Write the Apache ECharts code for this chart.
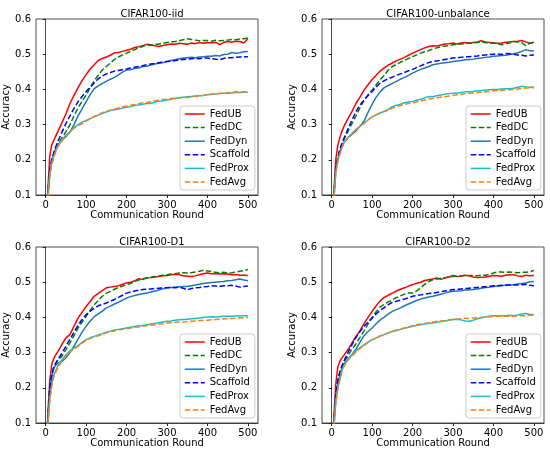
<!DOCTYPE html>
<html lang="en">
<head>
    <meta charset="UTF-8">
    <title>CIFAR100 accuracy</title>
    <script src="https://cdn.jsdelivr.net/npm/echarts@6/dist/echarts.min.js"></script>
    <style>
        html, body { margin: 0; padding: 0; background: #fff; }
    </style>
</head>
<body>
<div id="main" style="width: 550px; height: 453px;"></div>
<script>
    // communication rounds shared by every curve
    var rounds = [2, 6, 10, 15, 20, 25,
        30, 40, 50, 60, 70, 80, 90, 100, 110, 120,
        130, 140, 150, 160, 170, 180, 190, 200, 210, 220,
        230, 240, 250, 260, 270, 280, 290, 300, 310, 320,
        330, 340, 350, 360, 370, 380, 390, 400, 410, 420,
        430, 440, 450, 460, 470, 480, 490, 500];

    var methods = ['FedUB', 'FedDC', 'FedDyn', 'Scaffold', 'FedProx', 'FedAvg'];
    var colors = ['#ff0000', '#008000', '#1f77b4', '#0000ff', '#17becf', '#ff7f0e'];
    var dashed = [false, true, false, true, false, true];
    var titles = ['CIFAR100-iid', 'CIFAR100-unbalance', 'CIFAR100-D1', 'CIFAR100-D2'];
    var xTicks = [0, 100, 200, 300, 400, 500];

    // CIFAR100-iid
    var iidFedUB = [0.04, 0.13, 0.21, 0.243, 0.255, 0.268,
        0.28, 0.305, 0.33, 0.36, 0.383, 0.405, 0.425, 0.442, 0.458, 0.47,
        0.482, 0.488, 0.492, 0.497, 0.504, 0.505, 0.508, 0.511, 0.514, 0.519,
        0.521, 0.524, 0.528, 0.527, 0.524, 0.522, 0.525, 0.527, 0.529, 0.528,
        0.531, 0.53, 0.528, 0.532, 0.53, 0.533, 0.531, 0.533, 0.532, 0.534,
        0.527, 0.533, 0.536, 0.534, 0.537, 0.536, 0.532, 0.544];
    var iidFedDC = [0.03, 0.11, 0.17, 0.2, 0.218, 0.232,
        0.245, 0.262, 0.28, 0.3, 0.325, 0.348, 0.366, 0.384, 0.405, 0.425,
        0.44, 0.455, 0.465, 0.475, 0.485, 0.492, 0.498, 0.503, 0.508, 0.513,
        0.518, 0.522, 0.526, 0.525, 0.527, 0.529, 0.531, 0.533, 0.535, 0.536,
        0.538, 0.541, 0.544, 0.542, 0.54, 0.538, 0.539, 0.539, 0.537, 0.54,
        0.538, 0.539, 0.54, 0.542, 0.541, 0.543, 0.544, 0.546];
    var iidFedDyn = [0.03, 0.1, 0.16, 0.195, 0.215, 0.232,
        0.243, 0.256, 0.266, 0.278, 0.3, 0.325, 0.345, 0.365, 0.385, 0.402,
        0.41, 0.417, 0.423, 0.429, 0.434, 0.441, 0.449, 0.455, 0.456, 0.459,
        0.461, 0.465, 0.466, 0.469, 0.472, 0.474, 0.476, 0.479, 0.482, 0.484,
        0.487, 0.489, 0.49, 0.491, 0.49, 0.492, 0.493, 0.494, 0.494, 0.496,
        0.495, 0.499, 0.5, 0.505, 0.503, 0.504, 0.507, 0.508];
    var iidScaffold = [0.03, 0.11, 0.17, 0.2, 0.22, 0.237,
        0.252, 0.278, 0.303, 0.325, 0.346, 0.365, 0.38, 0.394, 0.406, 0.418,
        0.43, 0.438, 0.444, 0.448, 0.452, 0.454, 0.456, 0.458, 0.461, 0.463,
        0.465, 0.467, 0.47, 0.472, 0.474, 0.476, 0.478, 0.479, 0.48, 0.482,
        0.484, 0.485, 0.486, 0.487, 0.488, 0.487, 0.489, 0.489, 0.487, 0.486,
        0.484, 0.488, 0.49, 0.49, 0.491, 0.492, 0.493, 0.493];
    var iidFedProx = [0.03, 0.1, 0.16, 0.19, 0.21, 0.226,
        0.24, 0.256, 0.27, 0.28, 0.292, 0.3, 0.307, 0.312, 0.317, 0.322,
        0.327, 0.332, 0.336, 0.34, 0.342, 0.344, 0.347, 0.349, 0.351, 0.354,
        0.356, 0.358, 0.36, 0.36, 0.364, 0.366, 0.368, 0.37, 0.372, 0.374,
        0.376, 0.378, 0.379, 0.38, 0.381, 0.382, 0.383, 0.385, 0.386, 0.387,
        0.388, 0.389, 0.389, 0.39, 0.391, 0.391, 0.392, 0.392];
    var iidFedAvg = [0.03, 0.1, 0.155, 0.187, 0.207, 0.223,
        0.237, 0.254, 0.268, 0.279, 0.29, 0.297, 0.303, 0.31, 0.317, 0.323,
        0.328, 0.334, 0.338, 0.341, 0.344, 0.347, 0.35, 0.353, 0.355, 0.357,
        0.359, 0.362, 0.363, 0.365, 0.367, 0.369, 0.371, 0.372, 0.374, 0.375,
        0.376, 0.377, 0.377, 0.379, 0.38, 0.381, 0.383, 0.385, 0.386, 0.387,
        0.389, 0.39, 0.39, 0.392, 0.393, 0.392, 0.393, 0.392];

    // CIFAR100-unbalance
    var unbFedUB = [0.04, 0.12, 0.2, 0.24, 0.263, 0.28,
        0.294, 0.316, 0.337, 0.36, 0.378, 0.398, 0.413, 0.428, 0.44, 0.452,
        0.461, 0.469, 0.475, 0.481, 0.486, 0.491, 0.497, 0.503, 0.508, 0.513,
        0.518, 0.522, 0.524, 0.523, 0.526, 0.529, 0.53, 0.532, 0.529, 0.532,
        0.533, 0.531, 0.533, 0.535, 0.538, 0.535, 0.533, 0.532, 0.531, 0.532,
        0.534, 0.535, 0.536, 0.537, 0.539, 0.535, 0.531, 0.534];
    var unbFedDC = [0.03, 0.11, 0.175, 0.205, 0.228, 0.245,
        0.258, 0.28, 0.303, 0.325, 0.348, 0.368, 0.385, 0.398, 0.413, 0.428,
        0.44, 0.455, 0.465, 0.471, 0.477, 0.482, 0.488, 0.493, 0.498, 0.503,
        0.507, 0.51, 0.515, 0.518, 0.521, 0.523, 0.524, 0.527, 0.528, 0.529,
        0.53, 0.531, 0.532, 0.533, 0.534, 0.533, 0.531, 0.532, 0.53, 0.527,
        0.53, 0.532, 0.536, 0.535, 0.533, 0.524, 0.531, 0.534];
    var unbFedDyn = [0.03, 0.1, 0.17, 0.2, 0.222, 0.24,
        0.25, 0.263, 0.272, 0.282, 0.295, 0.31, 0.335, 0.358, 0.378, 0.393,
        0.405, 0.411, 0.417, 0.423, 0.429, 0.434, 0.44, 0.446, 0.452, 0.457,
        0.461, 0.465, 0.47, 0.472, 0.474, 0.476, 0.477, 0.479, 0.481, 0.482,
        0.484, 0.485, 0.486, 0.488, 0.489, 0.491, 0.492, 0.494, 0.495, 0.496,
        0.497, 0.499, 0.501, 0.504, 0.508, 0.513, 0.51, 0.51];
    var unbScaffold = [0.03, 0.11, 0.175, 0.205, 0.228, 0.245,
        0.26, 0.287, 0.313, 0.337, 0.356, 0.37, 0.383, 0.394, 0.407, 0.418,
        0.425, 0.43, 0.435, 0.44, 0.444, 0.448, 0.453, 0.457, 0.462, 0.467,
        0.472, 0.476, 0.479, 0.481, 0.483, 0.485, 0.487, 0.489, 0.49, 0.491,
        0.493, 0.493, 0.494, 0.495, 0.497, 0.498, 0.499, 0.5, 0.501, 0.499,
        0.502, 0.501, 0.5, 0.498, 0.497, 0.495, 0.497, 0.498];
    var unbFedProx = [0.03, 0.1, 0.165, 0.198, 0.218, 0.235,
        0.248, 0.263, 0.275, 0.286, 0.296, 0.303, 0.313, 0.322, 0.328, 0.333,
        0.338, 0.343, 0.351, 0.355, 0.358, 0.362, 0.364, 0.366, 0.369, 0.372,
        0.376, 0.38, 0.379, 0.382, 0.384, 0.386, 0.388, 0.389, 0.39, 0.391,
        0.393, 0.393, 0.394, 0.396, 0.397, 0.398, 0.399, 0.4, 0.4, 0.401,
        0.402, 0.402, 0.403, 0.406, 0.409, 0.407, 0.406, 0.407];
    var unbFedAvg = [0.03, 0.1, 0.16, 0.195, 0.215, 0.232,
        0.246, 0.262, 0.274, 0.285, 0.295, 0.304, 0.314, 0.322, 0.328, 0.333,
        0.337, 0.341, 0.347, 0.351, 0.354, 0.357, 0.36, 0.362, 0.365, 0.367,
        0.37, 0.373, 0.374, 0.376, 0.378, 0.379, 0.381, 0.383, 0.385, 0.386,
        0.388, 0.389, 0.39, 0.391, 0.392, 0.393, 0.394, 0.396, 0.397, 0.397,
        0.398, 0.399, 0.4, 0.401, 0.403, 0.404, 0.404, 0.405];

    // CIFAR100-D1
    var d1FedUB = [0.05, 0.14, 0.22, 0.266, 0.283, 0.294,
        0.303, 0.323, 0.342, 0.351, 0.375, 0.398, 0.415, 0.431, 0.445, 0.46,
        0.468, 0.476, 0.484, 0.486, 0.488, 0.49, 0.494, 0.498, 0.5, 0.504,
        0.51, 0.508, 0.512, 0.513, 0.515, 0.516, 0.518, 0.519, 0.521, 0.522,
        0.522, 0.518, 0.517, 0.516, 0.518, 0.521, 0.524, 0.526, 0.524, 0.525,
        0.523, 0.524, 0.523, 0.521, 0.522, 0.52, 0.52, 0.519];
    var d1FedDC = [0.04, 0.12, 0.2, 0.24, 0.258, 0.27,
        0.278, 0.29, 0.308, 0.328, 0.348, 0.37, 0.387, 0.403, 0.42, 0.436,
        0.448, 0.46, 0.469, 0.474, 0.48, 0.485, 0.489, 0.493, 0.497, 0.502,
        0.506, 0.51, 0.512, 0.514, 0.516, 0.518, 0.52, 0.521, 0.523, 0.524,
        0.526, 0.527, 0.526, 0.527, 0.529, 0.531, 0.534, 0.532, 0.53, 0.528,
        0.527, 0.528, 0.526, 0.527, 0.529, 0.531, 0.533, 0.536];
    var d1FedDyn = [0.04, 0.11, 0.18, 0.23, 0.255, 0.265,
        0.27, 0.275, 0.285, 0.3, 0.318, 0.338, 0.358, 0.375, 0.39, 0.402,
        0.41, 0.418, 0.427, 0.432, 0.438, 0.443, 0.449, 0.455, 0.459, 0.462,
        0.465, 0.467, 0.469, 0.472, 0.475, 0.478, 0.481, 0.484, 0.485, 0.486,
        0.487, 0.488, 0.488, 0.49, 0.492, 0.494, 0.496, 0.498, 0.499, 0.5,
        0.501, 0.502, 0.504, 0.505, 0.507, 0.509, 0.506, 0.504];
    var d1Scaffold = [0.04, 0.12, 0.2, 0.24, 0.258, 0.27,
        0.28, 0.298, 0.318, 0.338, 0.358, 0.378, 0.394, 0.408, 0.418, 0.426,
        0.433, 0.437, 0.441, 0.446, 0.451, 0.457, 0.463, 0.469, 0.472, 0.475,
        0.477, 0.479, 0.48, 0.481, 0.482, 0.483, 0.484, 0.484, 0.485, 0.484,
        0.486, 0.483, 0.478, 0.482, 0.484, 0.485, 0.487, 0.488, 0.49, 0.489,
        0.488, 0.49, 0.49, 0.491, 0.489, 0.486, 0.488, 0.489];
    var d1FedProx = [0.04, 0.11, 0.17, 0.21, 0.235, 0.25,
        0.262, 0.28, 0.294, 0.305, 0.313, 0.32, 0.329, 0.337, 0.342, 0.346,
        0.35, 0.354, 0.358, 0.361, 0.364, 0.366, 0.368, 0.37, 0.372, 0.374,
        0.376, 0.377, 0.379, 0.381, 0.383, 0.385, 0.387, 0.389, 0.39, 0.392,
        0.393, 0.394, 0.395, 0.396, 0.397, 0.398, 0.4, 0.401, 0.402, 0.401,
        0.402, 0.403, 0.403, 0.403, 0.404, 0.404, 0.405, 0.405];
    var d1FedAvg = [0.04, 0.1, 0.165, 0.205, 0.23, 0.245,
        0.258, 0.276, 0.29, 0.302, 0.31, 0.318, 0.327, 0.335, 0.34, 0.345,
        0.348, 0.352, 0.356, 0.359, 0.361, 0.364, 0.366, 0.368, 0.37, 0.372,
        0.373, 0.375, 0.377, 0.378, 0.379, 0.381, 0.382, 0.384, 0.385, 0.386,
        0.387, 0.387, 0.388, 0.389, 0.39, 0.391, 0.391, 0.392, 0.393, 0.394,
        0.395, 0.396, 0.396, 0.397, 0.398, 0.398, 0.399, 0.4];

    // CIFAR100-D2
    var d2FedUB = [0.04, 0.13, 0.21, 0.258, 0.275, 0.285,
        0.292, 0.308, 0.327, 0.346, 0.362, 0.383, 0.4, 0.417, 0.433, 0.447,
        0.457, 0.463, 0.469, 0.475, 0.48, 0.484, 0.489, 0.493, 0.497, 0.5,
        0.505, 0.507, 0.509, 0.512, 0.508, 0.512, 0.515, 0.519, 0.516, 0.517,
        0.52, 0.518, 0.515, 0.513, 0.514, 0.515, 0.517, 0.519, 0.518, 0.517,
        0.52, 0.521, 0.521, 0.518, 0.516, 0.52, 0.518, 0.519];
    var d2FedDC = [0.03, 0.11, 0.18, 0.22, 0.245, 0.262,
        0.275, 0.29, 0.31, 0.325, 0.343, 0.362, 0.382, 0.4, 0.416, 0.43,
        0.437, 0.444, 0.45, 0.456, 0.461, 0.466, 0.469, 0.469, 0.475, 0.484,
        0.494, 0.502, 0.507, 0.509, 0.511, 0.513, 0.515, 0.516, 0.517, 0.518,
        0.519, 0.519, 0.519, 0.518, 0.52, 0.52, 0.522, 0.526, 0.529, 0.529,
        0.528, 0.529, 0.528, 0.527, 0.528, 0.528, 0.53, 0.533];
    var d2FedDyn = [0.03, 0.1, 0.17, 0.21, 0.235, 0.255,
        0.268, 0.282, 0.294, 0.31, 0.33, 0.348, 0.36, 0.37, 0.382, 0.393,
        0.401, 0.41, 0.417, 0.422, 0.427, 0.433, 0.438, 0.443, 0.448, 0.452,
        0.455, 0.458, 0.46, 0.463, 0.466, 0.469, 0.472, 0.474, 0.475, 0.476,
        0.478, 0.478, 0.479, 0.481, 0.483, 0.485, 0.486, 0.488, 0.489, 0.49,
        0.491, 0.492, 0.493, 0.495, 0.496, 0.498, 0.501, 0.502];
    var d2Scaffold = [0.03, 0.11, 0.18, 0.22, 0.243, 0.26,
        0.275, 0.3, 0.322, 0.343, 0.36, 0.375, 0.387, 0.398, 0.41, 0.42,
        0.428, 0.436, 0.443, 0.446, 0.449, 0.452, 0.456, 0.46, 0.462, 0.464,
        0.466, 0.468, 0.469, 0.471, 0.473, 0.475, 0.477, 0.479, 0.48, 0.481,
        0.482, 0.483, 0.484, 0.485, 0.486, 0.487, 0.488, 0.49, 0.49, 0.491,
        0.492, 0.492, 0.493, 0.492, 0.493, 0.494, 0.491, 0.49];
    var d2FedProx = [0.03, 0.1, 0.16, 0.2, 0.225, 0.25,
        0.263, 0.28, 0.294, 0.305, 0.314, 0.322, 0.33, 0.337, 0.342, 0.347,
        0.351, 0.356, 0.36, 0.363, 0.366, 0.369, 0.372, 0.375, 0.377, 0.379,
        0.381, 0.383, 0.384, 0.386, 0.388, 0.39, 0.392, 0.394, 0.395, 0.393,
        0.39, 0.389, 0.392, 0.396, 0.399, 0.401, 0.403, 0.405, 0.405, 0.405,
        0.405, 0.406, 0.405, 0.407, 0.41, 0.411, 0.408, 0.408];
    var d2FedAvg = [0.03, 0.1, 0.155, 0.195, 0.22, 0.245,
        0.26, 0.278, 0.29, 0.302, 0.312, 0.32, 0.329, 0.336, 0.342, 0.347,
        0.351, 0.356, 0.36, 0.364, 0.367, 0.37, 0.373, 0.376, 0.379, 0.381,
        0.383, 0.385, 0.387, 0.389, 0.39, 0.391, 0.393, 0.394, 0.395, 0.396,
        0.397, 0.397, 0.398, 0.399, 0.4, 0.401, 0.402, 0.403, 0.403, 0.403,
        0.403, 0.403, 0.403, 0.404, 0.405, 0.405, 0.406, 0.406];

    var panelLines = [
        [iidFedUB, iidFedDC, iidFedDyn, iidScaffold, iidFedProx, iidFedAvg],
        [unbFedUB, unbFedDC, unbFedDyn, unbScaffold, unbFedProx, unbFedAvg],
        [d1FedUB, d1FedDC, d1FedDyn, d1Scaffold, d1FedProx, d1FedAvg],
        [d2FedUB, d2FedDC, d2FedDyn, d2Scaffold, d2FedProx, d2FedAvg]
    ];

    var font = 'DejaVu Sans';
    var boxes = [
        {left: 36, top: 19, width: 222, height: 176},
        {left: 322, top: 19, width: 222, height: 176},
        {left: 36, top: 247, width: 222, height: 176},
        {left: 322, top: 247, width: 222, height: 176}
    ];

    var option = {
        animation: false,
        backgroundColor: '#fff',
        title: [], grid: [], xAxis: [], yAxis: [], legend: [], series: []
    };

    boxes.forEach(function (b, p) {
        option.title.push({
            text: titles[p],
            left: b.left + b.width / 2,
            top: b.top - 15,
            textAlign: 'center',
            textStyle: {fontFamily: font, fontSize: 10, fontWeight: 'normal', color: '#000'}
        });
        option.grid.push({
            left: b.left, top: b.top, width: b.width, height: b.height,
            show: true, borderColor: '#222', borderWidth: 0.8, backgroundColor: 'transparent'
        });
        option.xAxis.push({
            type: 'value', gridIndex: p, min: -24, max: 525,
            name: 'Communication Round', nameLocation: 'middle', nameGap: 14,
            nameTextStyle: {fontFamily: font, fontSize: 10, color: '#000'},
            axisLine: {show: true, onZero: false, lineStyle: {color: '#222', width: 0.8}},
            axisTick: {show: true, length: 3, customValues: xTicks, lineStyle: {color: '#222'}},
            axisLabel: {customValues: xTicks, margin: 5, fontFamily: font, fontSize: 10, color: '#000'},
            splitLine: {show: false}
        });
        option.yAxis.push({
            type: 'value', gridIndex: p, min: 0.1, max: 0.6, interval: 0.1,
            name: 'Accuracy', nameLocation: 'middle', nameGap: 18,
            nameTextStyle: {fontFamily: font, fontSize: 10, color: '#000'},
            axisLine: {show: true, lineStyle: {color: '#222', width: 0.8}},
            axisTick: {show: true, length: 3, lineStyle: {color: '#222'}},
            axisLabel: {
                margin: 5, fontFamily: font, fontSize: 10, color: '#000',
                formatter: function (v) { return v.toFixed(1); }
            },
            splitLine: {show: false}
        });
        option.legend.push({
            data: methods,
            orient: 'vertical',
            left: b.left + b.width - 78,
            top: b.top + 87,
            itemWidth: 20, itemHeight: 10, itemGap: 3.6,
            padding: [3, 5, 3, 4],
            borderColor: '#ccc', borderWidth: 1, borderRadius: 3,
            backgroundColor: 'rgba(255,255,255,0.8)',
            selectedMode: false,
            itemStyle: {opacity: 0},
            lineStyle: {width: 1.5},
            textStyle: {fontFamily: font, fontSize: 10, color: '#000'}
        });
        panelLines[p].forEach(function (vals, m) {
            option.series.push({
                name: methods[m],
                type: 'line',
                xAxisIndex: p, yAxisIndex: p,
                symbol: 'none',
                clip: true,
                data: rounds.map(function (r, i) { return [r, vals[i]]; }),
                lineStyle: {color: colors[m], width: 1.5, type: dashed[m] ? [5.5, 2.5] : 'solid'},
                itemStyle: {color: colors[m]}
            });
        });
    });

    var chart = echarts.init(document.getElementById('main'));
    chart.setOption(option);
</script>
</body>
</html>
